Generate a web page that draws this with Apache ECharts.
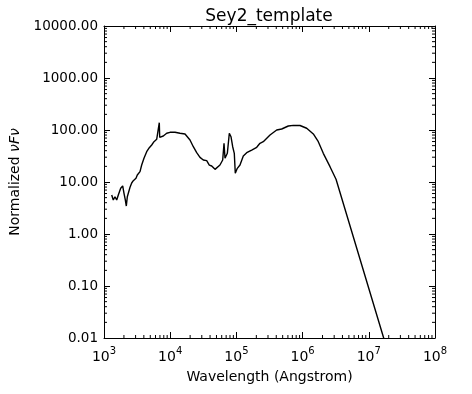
<!DOCTYPE html>
<html>
<head>
<meta charset="utf-8">
<script src="https://cdn.jsdelivr.net/npm/echarts@6/dist/echarts.min.js"></script>
<style>
html,body{margin:0;padding:0;background:#fff;}
#chart{width:472px;height:394px;}
</style>
</head>
<body>
<div id="chart"></div>
<script>
const titleText = 'Sey2_template';
const xAxisName = 'Wavelength (Angstrom)';
const yAxisNamePlain = 'Normalized ';
const yAxisNameGreek = '\u03bdF\u03bd';
const xTicks = [1e3, 1e4, 1e5, 1e6, 1e7, 1e8];
const yTicks = [0.01, 0.1, 1, 10, 100, 1000, 10000];

const wavelength = [1307,1381,1466,1556,1645,1787,1916,2005,2098,2173,2250,2361,2472,2620,2771,3043,3184,3499,3709,4017,4414,4834,5256,5692,6252,6609,6843,6937,7861,8853,9930,11820,14070,16740,17750,19910,22340,25130,28180,31610,35570,38960,42370,47530,50370,56470,62080,65010,67290,72940,78170,82850,87900,92940,96200,103200,113300,127100,143100,170300,202600,227000,254700,322000,406300,483300,608100,724400,914000,1153000,1452000,1727000,2054000,2594000,3199000,16560000,17800000];
const flux = [5.62,4.51,5.21,4.51,5.62,7.57,8.38,6.07,4.51,3.45,5.21,4.86,7.91,9.57,10.6,11.8,13.6,15.8,21.2,28.6,38.3,45.7,51.5,59.6,66.2,69.2,138,72.4,76.7,86.5,90.3,90.3,86.5,83.8,86.5,64.3,47.7,36.6,29.8,26.5,25.7,21.2,20.3,17.5,18.3,21.2,26.5,55.5,28.6,35.6,86.5,74.3,47.7,35.6,14.7,18.3,21.2,31.6,36.6,41.2,46.5,55.5,59.6,80.2,100,104.5,119.4,123,122,108,83.8,59.6,35.6,19.7,11.3,0.0106,0.0078];

const FONT = 'DejaVu Sans';
const chart = echarts.init(document.getElementById('chart'), null, {renderer:'canvas'});
const grid = {left:104, top:26, width:331, height:312};

function axisCommon(){
  return {
    type:'log', logBase:10,
    axisLine:{show:true, lineStyle:{color:'#000', width:1}},
    axisTick:{show:true, inside:true, length:6, lineStyle:{color:'#000', width:1}},
    splitLine:{show:false},
    minorTick:{show:false}
  };
}

const option = {
  animation:false,
  backgroundColor:'#fff',
  title:{text:titleText, left:264, top:3, textAlign:'center',
    textStyle:{fontFamily:FONT, fontSize:17, fontWeight:'normal', color:'#000'}},
  grid:grid,
  xAxis:[
    Object.assign(axisCommon(), {
      position:'bottom', min:xTicks[0], max:xTicks[xTicks.length-1],
      name:xAxisName, nameLocation:'middle', nameGap:32,
      nameTextStyle:{fontFamily:FONT, fontSize:14, color:'#000'},
      axisLabel:{margin:8, color:'#000',
        formatter:function(v){return '{b|10}{s|' + Math.round(Math.log10(v)) + '}';},
        rich:{b:{fontFamily:FONT, fontSize:14, lineHeight:18, verticalAlign:'bottom', color:'#000'},
              s:{fontFamily:FONT, fontSize:10, lineHeight:10, verticalAlign:'top', color:'#000'}}}
    }),
    Object.assign(axisCommon(), {
      position:'top', min:xTicks[0], max:xTicks[xTicks.length-1],
      axisLabel:{show:false}
    })
  ],
  yAxis:[
    Object.assign(axisCommon(), {
      position:'left', min:yTicks[0], max:yTicks[yTicks.length-1],
      name:'{n|' + yAxisNamePlain + '}{g|' + yAxisNameGreek + '}', nameLocation:'middle', nameGap:78,
      nameTextStyle:{fontFamily:FONT, fontSize:14, color:'#000',
        rich:{n:{fontFamily:FONT, fontSize:14, color:'#000'},
              g:{fontFamily:FONT, fontSize:14, fontStyle:'italic', color:'#000'}}},
      axisLabel:{margin:6, color:'#000', fontFamily:FONT, fontSize:13.5,
        formatter:function(v){return Number(v).toFixed(2);}}
    }),
    Object.assign(axisCommon(), {
      position:'right', min:yTicks[0], max:yTicks[yTicks.length-1],
      axisLabel:{show:false}
    })
  ],
  series:[{
    type:'line', xAxisIndex:0, yAxisIndex:0,
    data:wavelength.map((w,i)=>[w, flux[i]]),
    showSymbol:false, symbol:'none', clip:true,
    lineStyle:{color:'#000', width:1.4}
  }]
};
chart.setOption(option);

// minor ticks (2..9 within each decade), positioned via the axes' own scales
function addMinorTicks(){
  const els = [];
  const L = grid.left, T = grid.top, R = grid.left + grid.width, B = grid.top + grid.height;
  const len = 3;
  for (let d = 0; d < xTicks.length - 1; d++){
    for (let k = 2; k <= 9; k++){
      const v = xTicks[d] * k;
      const px = chart.convertToPixel({xAxisIndex:0}, v);
      els.push({type:'line', shape:{x1:px, y1:B, x2:px, y2:B-len}, style:{stroke:'#000', lineWidth:1}, silent:true});
      els.push({type:'line', shape:{x1:px, y1:T, x2:px, y2:T+len}, style:{stroke:'#000', lineWidth:1}, silent:true});
    }
  }
  for (let d = 0; d < yTicks.length - 1; d++){
    for (let k = 2; k <= 9; k++){
      const v = yTicks[d] * k;
      const py = chart.convertToPixel({yAxisIndex:0}, v);
      els.push({type:'line', shape:{x1:L, y1:py, x2:L+len, y2:py}, style:{stroke:'#000', lineWidth:1}, silent:true});
      els.push({type:'line', shape:{x1:R, y1:py, x2:R-len, y2:py}, style:{stroke:'#000', lineWidth:1}, silent:true});
    }
  }
  chart.setOption({graphic:{elements:els}});
}
addMinorTicks();
</script>
</body>
</html>
